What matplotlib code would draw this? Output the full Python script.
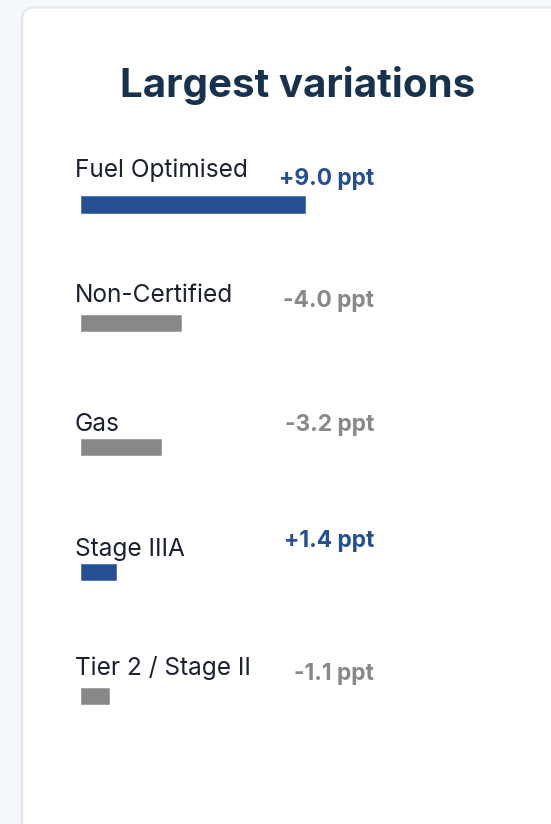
import matplotlib
matplotlib.use("Agg")
import matplotlib.pyplot as plt
from matplotlib.patches import FancyBboxPatch

# ---- data ----
categories = ["Fuel Optimised", "Non-Certified", "Gas", "Stage IIIA", "Tier 2 / Stage II"]
changes = [9.0, -4.0, -3.2, 1.4, -1.1]
value_labels = ["+9.0 ppt", "-4.0 ppt", "-3.2 ppt", "+1.4 ppt", "-1.1 ppt"]
title = "Largest variations"

# ---- layout (pixels) ----
W, H = 551, 824
bar_x0 = 81.7
px_per_unit = 24.8
bar_centers = [205, 323.5, 447.5, 572.5, 696.5]
label_baselines = [177, 302, 431, 556, 675]
value_baselines = [185, 307, 431, 547, 680]
bar_h = 15.5

BLUE = "#264f93"
GREY = "#888888"
FONT = ["Inter", "DejaVu Sans"]

fig = plt.figure(figsize=(W / 100, H / 100), dpi=100)
fig.patch.set_facecolor("#f5f8fc")

# pixel axes for card and text
ax = fig.add_axes([0, 0, 1, 1])
ax.set_xlim(0, W)
ax.set_ylim(H, 0)
ax.axis("off")

card = FancyBboxPatch((22, 7.5), W + 40, H + 20,
                      boxstyle="round,pad=0,rounding_size=12",
                      facecolor="white", edgecolor="#e3e6eb", linewidth=1.6)
ax.add_patch(card)

ax.text(298, 97, title, ha="center", va="baseline", fontsize=29,
        fontweight="bold", color="#17324f", family=FONT)

for i, (cat, val, vl) in enumerate(zip(categories, changes, value_labels)):
    col = BLUE if val > 0 else GREY
    ax.text(75, label_baselines[i], cat, ha="left", va="baseline",
            fontsize=17.6, color="#1b2130", family=FONT)
    ax.text(374, value_baselines[i], vl, ha="right", va="baseline",
            fontsize=16.4, fontweight="bold", color=col, family=FONT)

# bar axes: x in data units, y in pixels
bx = fig.add_axes([0, 0, 1, 1])
bx.set_xlim(-bar_x0 / px_per_unit, (W - bar_x0) / px_per_unit)
bx.set_ylim(H, 0)
bx.axis("off")
bx.patch.set_alpha(0)
colors = [BLUE if v > 0 else GREY for v in changes]
bx.barh(bar_centers, [abs(v) for v in changes], height=bar_h, left=0,
        color=colors, edgecolor=colors, linewidth=1.1)

fig.savefig("out.png", dpi=100, facecolor=fig.get_facecolor())
